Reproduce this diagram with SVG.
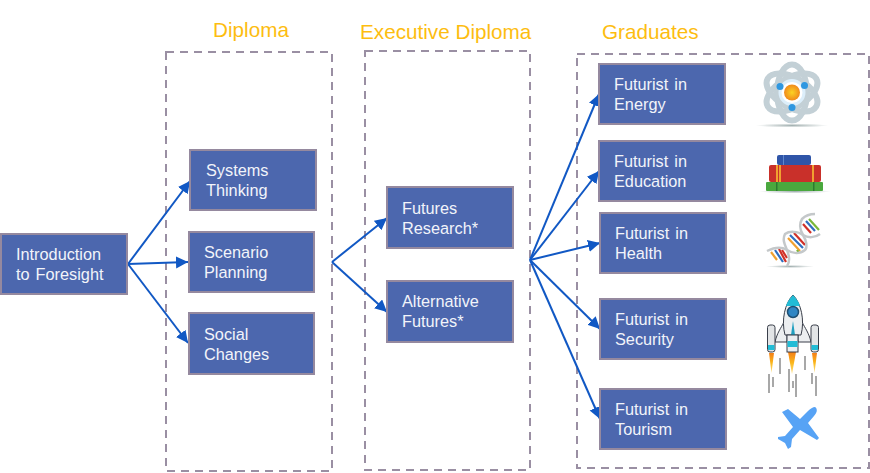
<svg xmlns="http://www.w3.org/2000/svg" width="870" height="473" viewBox="0 0 870 473">
<style>
.frame{fill:none;stroke:#9a8fa3;stroke-width:2;stroke-dasharray:8 6}
.box{fill:#4c67ae;stroke:#95899f;stroke-width:2}
.t{font-family:"Liberation Sans",Arial,sans-serif;font-size:16.300px;word-spacing:1.500px;fill:#f2f4fa}
.h{font-family:"Liberation Sans",Arial,sans-serif;font-size:20.700px;fill:#fdbd10}
.c{fill:none;stroke:#1158c4;stroke-width:2;marker-end:url(#a)}
.s{fill:none;stroke:#c4c8ca;stroke-width:2.500}
.k{stroke:#3a3f4a;stroke-width:1}
</style>
<defs>
<marker id="a" markerUnits="userSpaceOnUse" markerWidth="14" markerHeight="14" refX="12" refY="6" orient="auto"><path d="M0 0L12 6L0 12Z" fill="#1158c4"/></marker>
<radialGradient id="sun"><stop offset="0" stop-color="#fbd324"/><stop offset="1" stop-color="#f08a1c"/></radialGradient>
<linearGradient id="fl" x1="0" y1="0" x2="0" y2="1"><stop offset="0" stop-color="#f47f17"/><stop offset="0.500" stop-color="#fbb81c"/><stop offset="1" stop-color="#fde28a"/></linearGradient>
<radialGradient id="sh"><stop offset="0" stop-color="#a4b2b2"/><stop offset="1" stop-color="#a4b2b2" stop-opacity="0"/></radialGradient>
</defs>
<rect width="870" height="473" fill="#fff"/>
<g id="frames">
<rect class="frame" x="166" y="52" width="166" height="419"/>
<rect class="frame" x="365" y="51" width="165" height="419"/>
<rect class="frame" x="577" y="54" width="292" height="414"/>
</g>
<g id="headings">
<text class="h" x="213" y="37">Diploma</text>
<text class="h" x="360" y="39">Executive Diploma</text>
<text class="h" x="602" y="39">Graduates</text>
</g>
<g id="connectors">
<path class="c" d="M128 264L190 181"/>
<path class="c" d="M128 264L188 262"/>
<path class="c" d="M128 264L188 343"/>
<path class="c" d="M332 262L387 218"/>
<path class="c" d="M332 262L387 312"/>
<path class="c" d="M530 260L599 94"/>
<path class="c" d="M530 260L599 171"/>
<path class="c" d="M530 260L600 243"/>
<path class="c" d="M530 260L600 329"/>
<path class="c" d="M530 260L600 419"/>
</g>
<g id="intro"><rect class="box" x="1" y="234" width="126" height="60"/><text class="t" x="16" y="260">Introduction</text><text class="t" x="16" y="280">to Foresight</text></g>
<g id="systems"><rect class="box" x="190" y="150" width="126" height="60"/><text class="t" x="206" y="176">Systems</text><text class="t" x="206" y="196">Thinking</text></g>
<g id="scenario"><rect class="box" x="189" y="232" width="125" height="60"/><text class="t" x="204" y="258">Scenario</text><text class="t" x="204" y="278">Planning</text></g>
<g id="social"><rect class="box" x="189" y="313" width="125" height="61"/><text class="t" x="204" y="340">Social</text><text class="t" x="204" y="360">Changes</text></g>
<g id="futures-research"><rect class="box" x="387" y="187" width="126" height="61"/><text class="t" x="402" y="214">Futures</text><text class="t" x="402" y="234">Research*</text></g>
<g id="alternative-futures"><rect class="box" x="387" y="281" width="126" height="61"/><text class="t" x="402" y="307">Alternative</text><text class="t" x="402" y="327">Futures*</text></g>
<g id="energy"><rect class="box" x="599" y="64" width="126" height="60"/><text class="t" x="614" y="90">Futurist in</text><text class="t" x="614" y="110">Energy</text></g>
<g id="education"><rect class="box" x="599" y="141" width="126" height="60"/><text class="t" x="614" y="167">Futurist in</text><text class="t" x="614" y="187">Education</text></g>
<g id="health"><rect class="box" x="600" y="213" width="126" height="60"/><text class="t" x="615" y="239">Futurist in</text><text class="t" x="615" y="259">Health</text></g>
<g id="security"><rect class="box" x="600" y="299" width="126" height="60"/><text class="t" x="615" y="325">Futurist in</text><text class="t" x="615" y="345">Security</text></g>
<g id="tourism"><rect class="box" x="600" y="389" width="126" height="60"/><text class="t" x="615" y="415">Futurist in</text><text class="t" x="615" y="435">Tourism</text></g>
<g id="icon-atom">
<ellipse cx="792" cy="125.500" rx="36" ry="2" fill="url(#sh)"/>
<g fill="none" stroke="#c3d0d6" stroke-width="6">
<ellipse cx="792" cy="92.500" rx="15" ry="28"/>
<ellipse cx="792" cy="92.500" rx="15" ry="28" transform="rotate(60 792 92.500)"/>
<ellipse cx="792" cy="92.500" rx="15" ry="28" transform="rotate(-60 792 92.500)"/>
</g>
<circle cx="792" cy="92.500" r="12" fill="#fff" stroke="#dceefa" stroke-width="3"/>
<circle cx="792" cy="92.500" r="8" fill="url(#sun)"/>
<circle cx="780" cy="86.500" r="3.500" fill="#2f97e0"/><circle cx="804.500" cy="85.500" r="3.500" fill="#2f97e0"/><circle cx="792" cy="107.500" r="3.500" fill="#2f97e0"/>
</g>
<g id="icon-books">
<ellipse cx="795" cy="191.500" rx="36" ry="2" fill="url(#sh)"/>
<rect x="766" y="182" width="57" height="9" rx="1" fill="#4aa83e"/>
<rect x="776" y="182" width="1.500" height="9" fill="#2c7a30"/><rect x="813" y="182" width="1.500" height="9" fill="#2c7a30"/>
<rect x="769" y="165" width="52" height="17" rx="2" fill="#c9302a"/>
<rect x="776" y="165" width="2" height="17" fill="#f0a030"/><rect x="779" y="165" width="2" height="17" fill="#f0a030"/><rect x="812" y="165" width="2" height="17" fill="#f0a030"/>
<rect x="777" y="155" width="34" height="10" rx="2" fill="#2f55a8"/>
<rect x="783" y="155" width="1" height="10" fill="#5f86cc"/>
</g>
<g id="icon-dna">
<ellipse cx="790" cy="266.500" rx="24" ry="1.500" fill="url(#sh)"/>
<g stroke-width="2.200">
<path d="M771 252L777 260" stroke="#f0a030"/><path d="M775 250L783 262" stroke="#2f6ec0"/><path d="M779 249L786 262" stroke="#d03028"/><path d="M782 250L787 258" stroke="#d03028"/>
<path d="M788 238L800 251" stroke="#f0a030"/><path d="M790 235L803 248" stroke="#2f6ec0"/><path d="M794 233L805 245" stroke="#d03028"/><path d="M797 250L799 253" stroke="#7ab83a"/>
<path d="M806 221L815 231" stroke="#2f6ec0"/><path d="M809 219L819 230" stroke="#7ab83a"/><path d="M803 224L811 233" stroke="#d03028"/>
</g>
<path class="s" d="M767 251C775 247 782 247 787 250C793 254 800 254 805 250C808 247 806 240 803 235C800 230 799 224 802 219C805 216 810 214 815 214"/>
<path class="s" d="M787 266C790 262 789 255 787 250C785 245 782 240 785 234C789 231 798 231 803 235C808 238 815 238 820 234"/>
</g>
<g id="icon-rocket">
<g stroke="#8c8c8c" stroke-width="1.500">
<path d="M769 374V393M773 377V387M780 358V374M789 369V392M793 381V388M796 374V397M805 356V370M812 373V384M816 376V396"/>
</g>
<path d="M769 353H774L771.500 373Z" fill="url(#fl)"/>
<path d="M788 352H796L792 374Z" fill="url(#fl)"/>
<path d="M812 353H817L814.500 373Z" fill="url(#fl)"/>
<path class="k" d="M775 342C777 333 781 328 784 322L787 336V342ZM811 342C809 333 805 328 802 322L798 336V342Z" fill="#eceef0"/>
<path class="k" d="M793 295C785 303 781 320 785 335H801C805 320 801 303 793 295Z" fill="#eceef0"/>
<path d="M793 295C790 298 787 302 786 306H800C799 302 796 298 793 295Z" fill="#22bcd6"/>
<circle cx="793" cy="312" r="5.500" fill="#2f86c4" stroke="#1f4f72" stroke-width="1.500"/>
<path d="M793 321L791 335H795Z" fill="#22a0c0"/>
<rect class="k" x="787" y="335" width="11" height="17" fill="#eceef0"/>
<rect x="787.500" y="341" width="10" height="6" fill="#22bcd6"/>
<rect class="k" x="767.500" y="325" width="7.500" height="27" rx="2.500" fill="#e2e4e6"/>
<rect x="768" y="345" width="6.500" height="5" fill="#22bcd6"/>
<rect class="k" x="811" y="325" width="7.500" height="27" rx="2.500" fill="#e2e4e6"/>
<rect x="811.500" y="345" width="6.500" height="5" fill="#22bcd6"/>
</g>
<g id="icon-plane" fill="#57a3f5">
<path d="M815 407C818 409 817 413 814 416L808 423L819 438L817 440L800 430L792 439L791 447L788 449L785 443L778 439L778 437L785 436L793 427L782 412L788 409L800 419L808 411C810 409 813 407 815 407Z"/>
</g>
</svg>
